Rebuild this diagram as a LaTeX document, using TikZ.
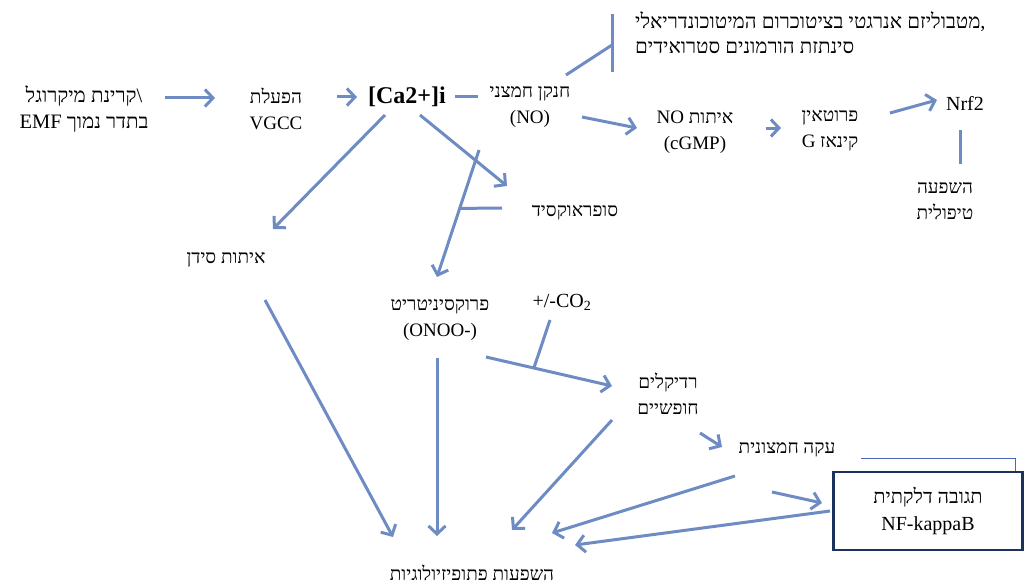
\documentclass[tikz,border=0pt]{standalone}
\usepackage{fontspec}
\setmainfont{Liberation Serif}
\newfontfamily\hebfont[Script=Hebrew]{Liberation Serif}
\TeXXeTstate=1
\newcommand{\heb}[1]{{\hebfont\beginR #1\endR}}
\usetikzlibrary{positioning,arrows.meta}
\definecolor{flowblue}{RGB}{110,140,195}
\definecolor{thinblue}{RGB}{70,105,185}
\definecolor{boxnavy}{RGB}{28,50,92}
\tikzset{
  >={Straight Barb[length=8pt,width=17pt]},
  lbl/.style={
    align=center,
    inner sep=1pt,
    font=\fontsize{19}{26}\selectfont
  },
  flow/.style={draw=flowblue, line width=3pt, ->},
  link/.style={draw=flowblue, line width=3pt},
  framebox/.style={
    lbl,
    font=\fontsize{20}{27}\selectfont,
    draw=boxnavy,
    line width=2.4pt,
    minimum width=189pt,
    minimum height=78pt
  }
}

\begin{document}
\begin{tikzpicture}[x=1pt,y=-1pt]
  \useasboundingbox (0,0) rectangle (1029,586);

  % upper chain
  \node[lbl, font=\fontsize{20.5}{26}\selectfont] (emf) at (84,109) {\heb{קרינת מיקרוגל}\textbackslash\\EMF \heb{בתדר נמוך}};
  \node[lbl] (vgcc) at (276,109) {\heb{הפעלת}\\VGCC};
  \node[lbl, font=\fontsize{24}{26}\selectfont\bfseries] (ca) at (407,97) {[Ca2+]i};
  \node[lbl] (no) at (530,107) {\heb{חנקן חמצני}\\(NO)};
  \node[lbl, align=left, anchor=west, font=\fontsize{20.5}{25}\selectfont] (mito) at (634,33)
    {\heb{מטבוליזם אנרגטי בציטוכרום המיטוכונדריאלי},\\\heb{סינתזת הורמונים סטרואידים}};
  \node[lbl] (cgmp) at (695,132) {\heb{איתות NO}\\(cGMP)};
  \node[lbl] (pkg) at (830,131) {\heb{פרוטאין}\\\heb{קינאז G}};
  \node[lbl, font=\fontsize{20}{26}\selectfont] (nrf2) at (965,103) {Nrf2};
  \node[lbl] (ther) at (945,201) {\heb{השפעה}\\\heb{טיפולית}};

  % middle and lower part
  \node[lbl] (supox) at (575,213) {\heb{סופראוקסיד}};
  \node[lbl] (casig) at (226,260) {\heb{איתות סידן}};
  \node[lbl] (onoo) at (440,320) {\heb{פרוקסיניטריט}\\(ONOO-)};
  \node[lbl, font=\fontsize{20}{26}\selectfont] (co2) at (562,302) {+/-CO\textsubscript{2}};
  \node[lbl] (rad) at (668,394) {\heb{רדיקלים}\\\heb{חופשיים}};
  \node[lbl] (acid) at (787,450) {\heb{עקה חמצונית}};
  \node[framebox] (nfkb) at (928,511) {\heb{תגובה דלקתית}\\NF-kappaB};
  \node[lbl] (patho) at (472,573) {\heb{השפעות פתופיזיולוגיות}};

  \draw[flow] ([shift={(81,-11)}]emf.center) -- ([shift={(-61,-11)}]vgcc.center);
  \draw[flow] ([shift={(61,-12)}]vgcc.center) -- ([shift={(-50,0)}]ca.center);
  \draw[link] ([shift={(48,0)}]ca.center) -- ([shift={(-52,-10)}]no.center);
  \draw[flow] ([shift={(52,10)}]no.center) -- ([shift={(-58,-4)}]cgmp.center);
  \draw[flow] ([shift={(71,-4)}]cgmp.center) -- ([shift={(-49,-3)}]pkg.center);
  \draw[flow] ([shift={(60,-18)}]pkg.center) -- ([shift={(-28,-3)}]nrf2.center);
  \draw[link] ([shift={(-5,27)}]nrf2.center) -- ([shift={(15,-37)}]ther.center);

  % NO towards the mitochondria
  \draw[link] ([shift={(36,-32)}]no.center) -- ([shift={(-22,12)}]mito.west);
  \draw[link] ([shift={(-22,-19)}]mito.west) -- ([shift={(-22,39)}]mito.west);

  \draw[flow] ([shift={(-22,18)}]ca.center) -- ([shift={(47,-31)}]casig.center);
  \draw[flow] ([shift={(13,18)}]ca.center) -- ([shift={(-68,-27)}]supox.center);
  \draw[flow] ([shift={(-51,43)}]no.center) -- coordinate[pos=0.46] (meet1) ([shift={(-3,-43)}]onoo.center);
  \draw[link] ([shift={(-73,-5)}]supox.center) -- (meet1);

  \draw[flow] ([shift={(46,37)}]onoo.center) -- coordinate[pos=0.38] (meet2) ([shift={(-56,-8)}]rad.center);
  \draw[link] ([shift={(-12,18)}]co2.center) -- (meet2);

  % into the pathophysiological effects
  \draw[flow] ([shift={(-3,38)}]onoo.center) -- ([shift={(-35,-37)}]patho.center);
  \draw[flow] ([shift={(39,40)}]casig.center) -- ([shift={(-79,-36)}]patho.center);
  \draw[flow] ([shift={(-56,26)}]rad.center) -- ([shift={(40,-43)}]patho.center);
  \draw[flow] ([shift={(32,39)}]rad.center) -- ([shift={(-65,-3)}]acid.center);
  \draw[flow] ([shift={(-52,26)}]acid.center) -- ([shift={(80,-40)}]patho.center);
  \draw[flow] ([shift={(-15,42)}]acid.center) -- ([shift={(-106,-8)}]nfkb.center);
  \draw[flow] ([shift={(-98,0)}]nfkb.center) -- ([shift={(103,-28)}]patho.center);

  \draw[thinblue, line width=1.1pt] ([shift={(29,-12)}]nfkb.north west) -| ([shift={(183,0)}]nfkb.north west);
\end{tikzpicture}
\end{document}
